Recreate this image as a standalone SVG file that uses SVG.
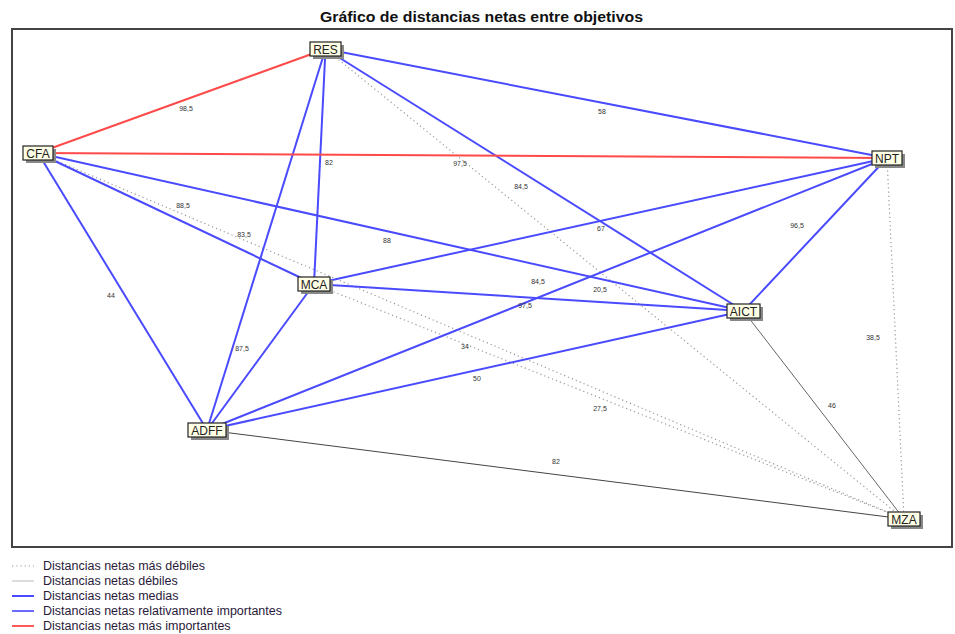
<svg xmlns="http://www.w3.org/2000/svg" width="955" height="634" viewBox="0 0 955 634">
<defs>
<style>
.t{font-family:"Liberation Sans",Arial,sans-serif;}
.title{font-size:14.5px;font-weight:bold;fill:#111;}
.nb{fill:#ffffe6;stroke:#222;stroke-width:1.2;}
.ns{fill:#888;}
.nt{font-size:12px;fill:#222;text-anchor:middle;}
.lb{font-size:7px;fill:#333;text-anchor:middle;}
.lg{font-size:12.5px;fill:#2a1a3a;}
.red{stroke:#ff4a4a;stroke-width:2;fill:none;}
.blue{stroke:#4a4aff;stroke-width:2;fill:none;}
.dot{stroke:#999;stroke-width:1.2;stroke-dasharray:1.2 3;fill:none;}
.weak{stroke:#666;stroke-width:1;fill:none;}
.weak2{stroke:#444;stroke-width:1;fill:none;}
</style>
</defs>
<rect width="955" height="634" fill="#fff"/>
<text class="t title" x="320" y="22" textLength="323" lengthAdjust="spacingAndGlyphs">Gráfico de distancias netas entre objetivos</text>
<rect x="12" y="29" width="940" height="518" fill="#fff" stroke="#444" stroke-width="2"/>
<g id="connectors">
<line class="dot" x1="325.5" y1="49" x2="904" y2="519"/>
<line class="dot" x1="38" y1="153" x2="904" y2="519"/>
<line class="dot" x1="314" y1="284" x2="904" y2="519"/>
<line class="dot" x1="887" y1="158" x2="904" y2="519"/>
<line class="weak" x1="743.5" y1="311" x2="904" y2="519"/>
<line class="weak2" x1="207" y1="430" x2="904" y2="519"/>
<line class="blue" x1="325.5" y1="49" x2="887" y2="158"/>
<line class="blue" x1="325.5" y1="49" x2="314" y2="284"/>
<line class="blue" x1="325.5" y1="49" x2="743.5" y2="311"/>
<line class="blue" x1="325.5" y1="49" x2="207" y2="430"/>
<line class="blue" x1="38" y1="153" x2="314" y2="284"/>
<line class="blue" x1="38" y1="153" x2="743.5" y2="311"/>
<line class="blue" x1="38" y1="153" x2="207" y2="430"/>
<line class="blue" x1="314" y1="284" x2="887" y2="158"/>
<line class="blue" x1="314" y1="284" x2="743.5" y2="311"/>
<line class="blue" x1="314" y1="284" x2="207" y2="430"/>
<line class="blue" x1="887" y1="158" x2="743.5" y2="311"/>
<line class="blue" x1="887" y1="158" x2="207" y2="430"/>
<line class="blue" x1="743.5" y1="311" x2="207" y2="430"/>
<line class="red" x1="38" y1="153" x2="325.5" y2="49"/>
<line class="red" x1="38" y1="153" x2="887" y2="158"/>
<g class="t">
<text class="lb" x="186" y="111">98,5</text>
<text class="lb" x="602" y="114">58</text>
<text class="lb" x="329" y="165">82</text>
<text class="lb" x="460" y="166">97,5</text>
<text class="lb" x="521" y="189">84,5</text>
<text class="lb" x="183" y="208">88,5</text>
<text class="lb" x="244" y="237">83,5</text>
<text class="lb" x="387" y="243">88</text>
<text class="lb" x="601" y="231">67</text>
<text class="lb" x="797" y="228">96,5</text>
<text class="lb" x="111" y="298">44</text>
<text class="lb" x="538" y="284">84,5</text>
<text class="lb" x="600" y="292">20,5</text>
<text class="lb" x="525" y="308">97,5</text>
<text class="lb" x="242" y="351">87,5</text>
<text class="lb" x="465" y="349">34</text>
<text class="lb" x="873" y="340">38,5</text>
<text class="lb" x="477" y="381">50</text>
<text class="lb" x="600" y="411">27,5</text>
<text class="lb" x="832" y="408">46</text>
<text class="lb" x="556" y="464">82</text>
</g>
</g>
<g id="RES"><rect class="ns" x="313" y="45" width="31" height="14"/><rect class="nb" x="310" y="42" width="31" height="14"/><text class="t nt" x="325.5" y="53.5">RES</text></g>
<g id="CFA"><rect class="ns" x="26" y="149" width="30" height="14"/><rect class="nb" x="23" y="146" width="30" height="14"/><text class="t nt" x="38" y="157.5">CFA</text></g>
<g id="NPT"><rect class="ns" x="875" y="154" width="30" height="14"/><rect class="nb" x="872" y="151" width="30" height="14"/><text class="t nt" x="887" y="162.5">NPT</text></g>
<g id="MCA"><rect class="ns" x="301" y="280" width="32" height="14"/><rect class="nb" x="298" y="277" width="32" height="14"/><text class="t nt" x="314" y="288.5">MCA</text></g>
<g id="AICT"><rect class="ns" x="730" y="307" width="33" height="14"/><rect class="nb" x="727" y="304" width="33" height="14"/><text class="t nt" x="743.5" y="315.5">AICT</text></g>
<g id="ADFF"><rect class="ns" x="191" y="426" width="38" height="14"/><rect class="nb" x="188" y="423" width="38" height="14"/><text class="t nt" x="207" y="434.5">ADFF</text></g>
<g id="MZA"><rect class="ns" x="891" y="515" width="32" height="14"/><rect class="nb" x="888" y="512" width="32" height="14"/><text class="t nt" x="904" y="523.5">MZA</text></g>
<g id="legend">
<line class="dot" x1="12" y1="566" x2="34" y2="566"/>
<line x1="12" y1="581" x2="34" y2="581" stroke="#d0d0d0" stroke-width="1.5"/>
<line x1="12" y1="596" x2="34" y2="596" stroke="#4a4aff" stroke-width="2"/>
<line x1="12" y1="611" x2="34" y2="611" stroke="#6a6aff" stroke-width="2"/>
<line x1="12" y1="626" x2="34" y2="626" stroke="#ff5a5a" stroke-width="2"/>
<g class="t">
<text class="lg" x="43" y="570">Distancias netas más débiles</text>
<text class="lg" x="43" y="585">Distancias netas débiles</text>
<text class="lg" x="43" y="600">Distancias netas medias</text>
<text class="lg" x="43" y="615">Distancias netas relativamente importantes</text>
<text class="lg" x="43" y="630">Distancias netas más importantes</text>
</g>
</g>
</svg>
